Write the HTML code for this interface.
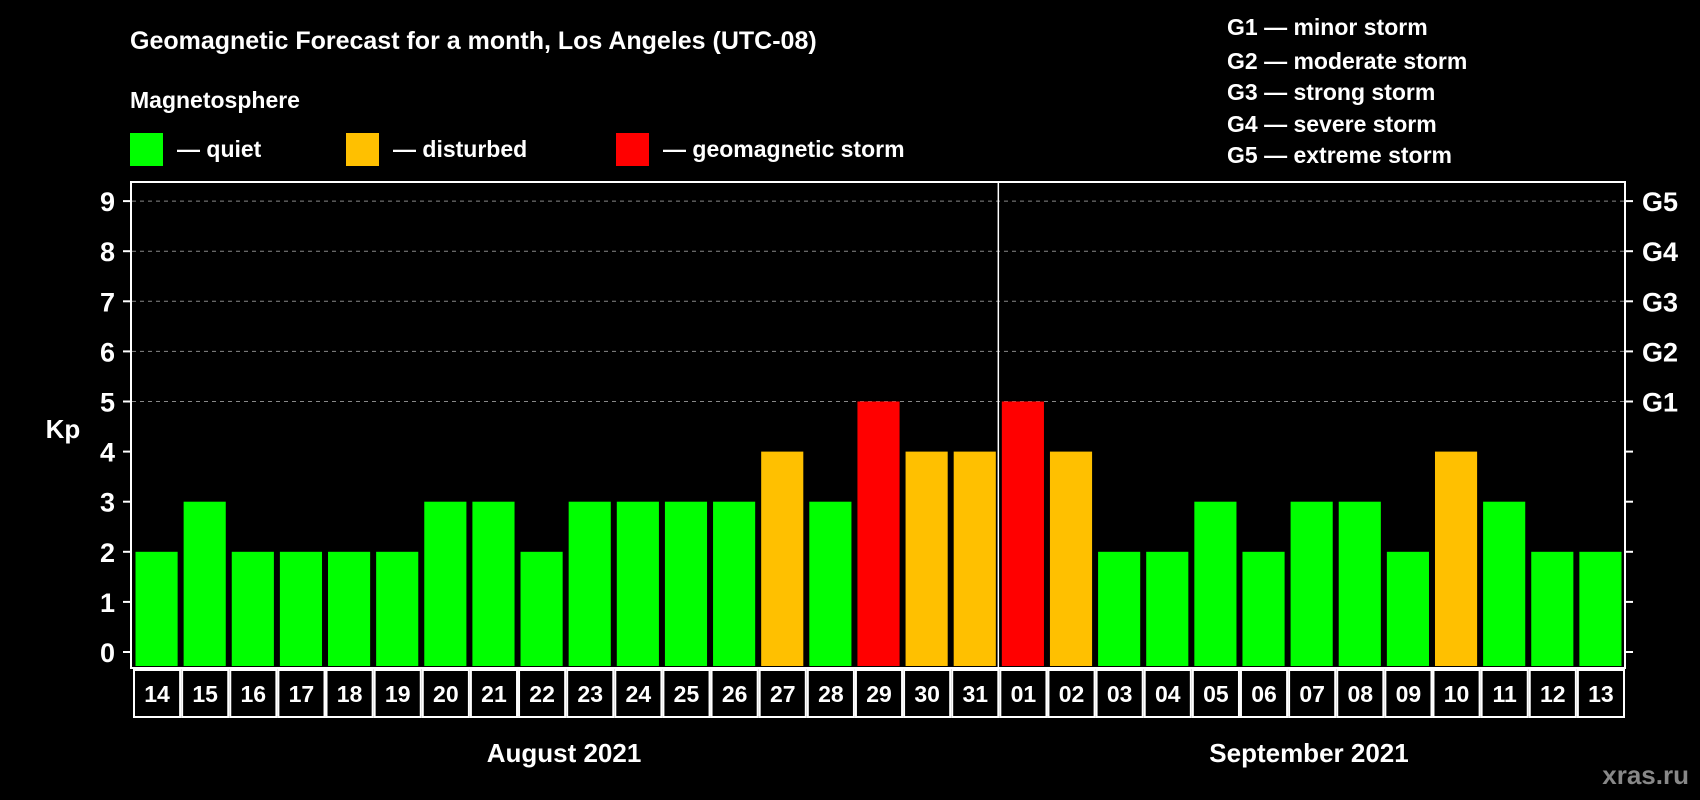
<!DOCTYPE html>
<html><head><meta charset="utf-8"><style>
html,body{margin:0;padding:0;background:#000;}
svg{display:block;font-family:"Liberation Sans",Arial,sans-serif;font-weight:bold;}
</style></head><body>
<svg id="chart" width="1700" height="800" viewBox="0 0 1700 800">
<text x="130" y="49" fill="#fff" font-size="25">Geomagnetic Forecast for a month, Los Angeles (UTC-08)</text>
<text x="130" y="108" fill="#fff" font-size="23">Magnetosphere</text>
<g>
<rect x="130" y="133" width="33" height="33" fill="#00ff00"/>
<text x="177" y="157" fill="#fff" font-size="23">— quiet</text>
<rect x="346" y="133" width="33" height="33" fill="#ffc000"/>
<text x="393" y="157" fill="#fff" font-size="23">— disturbed</text>
<rect x="616" y="133" width="33" height="33" fill="#ff0000"/>
<text x="663" y="157" fill="#fff" font-size="23">— geomagnetic storm</text>
</g>
<g font-size="23" fill="#fff">
<text x="1227" y="35">G1 — minor storm</text>
<text x="1227" y="69">G2 — moderate storm</text>
<text x="1227" y="100">G3 — strong storm</text>
<text x="1227" y="132">G4 — severe storm</text>
<text x="1227" y="163">G5 — extreme storm</text>
</g>
<text x="63" y="438" fill="#fff" font-size="26" text-anchor="middle">Kp</text>
<text x="564" y="762" fill="#fff" font-size="26" text-anchor="middle">August 2021</text>
<text x="1309" y="762" fill="#fff" font-size="26" text-anchor="middle">September 2021</text>
<text x="1689" y="784" fill="#888" font-size="26" text-anchor="end">xras.ru</text>
<g id="plot"></g>
</svg>
<script>
const days = ["14","15","16","17","18","19","20","21","22","23","24","25","26","27","28","29","30","31","01","02","03","04","05","06","07","08","09","10","11","12","13"];
const kpValues = [2,3,2,2,2,2,3,3,2,3,3,3,3,4,3,5,4,4,5,4,2,2,3,2,3,3,2,4,3,2,2];
const yTicks = [0,1,2,3,4,5,6,7,8,9];
const gLabels = ["G1","G2","G3","G4","G5"];
const gLevels = [5,6,7,8,9];
const monthSplitIndex = 18;

const NS = "http://www.w3.org/2000/svg";
const g = document.getElementById("plot");
const L = 132, R = 1624, T = 182, B = 668;
const slot = (R - L) / days.length;
const y = v => 652 - v * 50.1;
const x = i => L + i * slot;
function mk(tag, attrs, parent) {
  const e = document.createElementNS(NS, tag);
  for (const k in attrs) e.setAttribute(k, attrs[k]);
  (parent || g).appendChild(e);
  return e;
}
// gridlines
gLevels.forEach(v => {
  const l = mk("line", {x1: L, x2: R, y1: y(v), y2: y(v), stroke: "#888", "stroke-dasharray": "4,4", "stroke-width": 1});
  
  
});
// bars
kpValues.forEach((v, i) => {
  const c = v >= 5 ? "#ff0000" : (v >= 4 ? "#ffc000" : "#00ff00");
  const r = mk("rect", {x: x(i) + 3.5, y: y(v), width: slot - 6, height: B - 2 - y(v), fill: c});
  
  
});
// frame
const fr = mk("rect", {x: L - 1, y: T, width: R - L + 2, height: B - T, fill: "none", stroke: "#fff", "stroke-width": 2});


const dv = mk("line", {x1: x(monthSplitIndex), x2: x(monthSplitIndex), y1: T, y2: B, stroke: "#fff", "stroke-width": 1.5});


// y ticks
yTicks.forEach(v => {
  const t1 = mk("line", {x1: L - 9, x2: L - 1, y1: y(v), y2: y(v), stroke: "#fff", "stroke-width": 2});
  
  
  const t2 = mk("line", {x1: R + 1, x2: R + 9, y1: y(v), y2: y(v), stroke: "#fff", "stroke-width": 2});
  
  
  const tx = mk("text", {x: 115, y: y(v) + 10, fill: "#fff", "font-size": 27, "text-anchor": "end"});
  
  
  tx.textContent = v;
});
gLabels.forEach((s, i) => {
  const tx = mk("text", {x: 1642, y: y(gLevels[i]) + 10, fill: "#fff", "font-size": 27});
  
  
  tx.textContent = s;
});
// day boxes
days.forEach((d, i) => {
  const b = mk("rect", {x: x(i) + 2, y: 670, width: slot - 2, height: 47, fill: "none", stroke: "#fff", "stroke-width": 2});
  
  
  const tx = mk("text", {x: x(i) + slot / 2 + 1, y: 702, fill: "#fff", "font-size": 23, "text-anchor": "middle"});
  
  
  tx.textContent = d;
});
</script>
</body></html>
